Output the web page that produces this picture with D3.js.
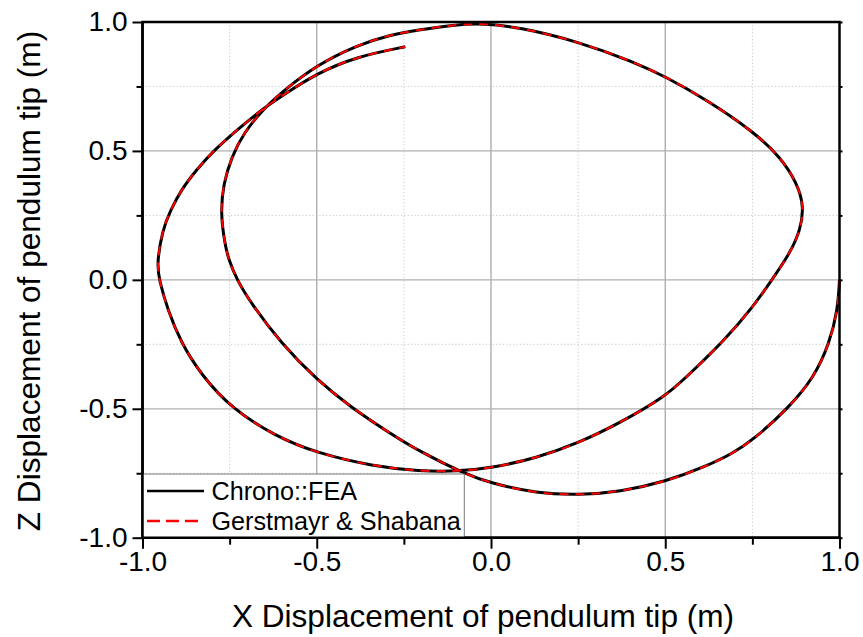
<!DOCTYPE html>
<html>
<head>
<meta charset="utf-8">
<script src="https://cdn.jsdelivr.net/npm/d3@7"></script>
<style>
  html, body { margin: 0; padding: 0; background: #fff; }
  svg { display: block; font-family: "Liberation Sans", Arial, sans-serif; }
</style>
</head>
<body>
<svg id="chart" width="863" height="637"></svg>
<script>
// ---- data ----
const chronoX = [1.0, 0.995, 0.971, 0.927, 0.853, 0.753, 0.695, 0.620, 0.501, 0.370, 0.251, 0.131, 0.0, -0.079, -0.204, -0.29, -0.404, -0.5, -0.603, -0.689, -0.729, -0.753, -0.764, -0.776, -0.768, -0.744, -0.711, -0.649, -0.596, -0.5, -0.385, -0.29, -0.204, -0.108, -0.022, 0.083, 0.251, 0.408, 0.501, 0.619, 0.753, 0.83, 0.879, 0.898, 0.888, 0.858, 0.806, 0.753, 0.667, 0.562, 0.501, 0.370, 0.251, 0.131, 0.0, -0.099, -0.204, -0.338, -0.5, -0.620, -0.742, -0.832, -0.889, -0.928, -0.952, -0.959, -0.943, -0.919, -0.889, -0.846, -0.794, -0.718, -0.649, -0.596, -0.5, -0.385, -0.246];
const chronoZ = [0.0, -0.116, -0.247, -0.379, -0.498, -0.62, -0.672, -0.722, -0.783, -0.822, -0.835, -0.828, -0.789, -0.75, -0.666, -0.595, -0.492, -0.388, -0.245, -0.09, 0.0, 0.078, 0.142, 0.258, 0.374, 0.477, 0.568, 0.669, 0.733, 0.833, 0.91, 0.95, 0.970, 0.989, 0.995, 0.979, 0.924, 0.846, 0.788, 0.698, 0.575, 0.477, 0.374, 0.284, 0.194, 0.103, 0.0, -0.103, -0.239, -0.375, -0.452, -0.555, -0.633, -0.691, -0.730, -0.743, -0.742, -0.723, -0.672, -0.605, -0.502, -0.368, -0.245, -0.116, 0.0, 0.06, 0.194, 0.271, 0.349, 0.426, 0.504, 0.594, 0.669, 0.717, 0.801, 0.866, 0.904];
const gerstX = [1.0, 0.995, 0.971, 0.927, 0.853, 0.753, 0.695, 0.620, 0.501, 0.370, 0.251, 0.131, 0.0, -0.079, -0.204, -0.29, -0.404, -0.5, -0.603, -0.689, -0.729, -0.753, -0.764, -0.776, -0.768, -0.744, -0.711, -0.649, -0.596, -0.5, -0.385, -0.29, -0.204, -0.108, -0.022, 0.083, 0.251, 0.408, 0.501, 0.619, 0.753, 0.83, 0.879, 0.898, 0.888, 0.858, 0.806, 0.753, 0.667, 0.562, 0.501, 0.370, 0.251, 0.131, 0.0, -0.099, -0.204, -0.338, -0.5, -0.620, -0.742, -0.832, -0.889, -0.928, -0.952, -0.959, -0.943, -0.919, -0.889, -0.846, -0.794, -0.718, -0.649, -0.596, -0.5, -0.385, -0.246];
const gerstZ = [0.0, -0.116, -0.247, -0.379, -0.498, -0.62, -0.672, -0.722, -0.783, -0.822, -0.835, -0.828, -0.789, -0.75, -0.666, -0.595, -0.492, -0.388, -0.245, -0.09, 0.0, 0.078, 0.142, 0.258, 0.374, 0.477, 0.568, 0.669, 0.733, 0.833, 0.91, 0.95, 0.970, 0.989, 0.995, 0.979, 0.924, 0.846, 0.788, 0.698, 0.575, 0.477, 0.374, 0.284, 0.194, 0.103, 0.0, -0.103, -0.239, -0.375, -0.452, -0.555, -0.633, -0.691, -0.730, -0.743, -0.742, -0.723, -0.672, -0.605, -0.502, -0.368, -0.245, -0.116, 0.0, 0.06, 0.194, 0.271, 0.349, 0.426, 0.504, 0.594, 0.669, 0.717, 0.801, 0.866, 0.904];
const majorTicks = [-1.0, -0.5, 0.0, 0.5, 1.0];
const minorTicks = [-0.75, -0.25, 0.25, 0.75];
const seriesNames = ["Chrono::FEA", "Gerstmayr & Shabana"];
const xTitle = "X Displacement of pendulum tip (m)";
const zTitle = "Z Displacement of pendulum tip (m)";

// ---- layout ----
const L = 142.5, R = 839.5, T = 22, B = 537.7;
const svg = d3.select("#chart");
const x = d3.scaleLinear().domain([-1, 1]).range([L, R]);
const y = d3.scaleLinear().domain([-1, 1]).range([B, T]);
const fmt = d => d.toFixed(1);

// grid
const grid = svg.append("g");
grid.selectAll("line.mx").data(minorTicks).join("line")
  .attr("x1", d => x(d)).attr("x2", d => x(d)).attr("y1", T).attr("y2", B)
  .attr("stroke", "#c8c8c8").attr("stroke-width", 1).attr("stroke-dasharray", "1.2,2.2");
grid.selectAll("line.my").data(minorTicks).join("line")
  .attr("y1", d => y(d)).attr("y2", d => y(d)).attr("x1", L).attr("x2", R)
  .attr("stroke", "#c8c8c8").attr("stroke-width", 1).attr("stroke-dasharray", "1.2,2.2");
grid.selectAll("line.Mx").data(majorTicks.slice(1, -1)).join("line")
  .attr("x1", d => x(d)).attr("x2", d => x(d)).attr("y1", T).attr("y2", B)
  .attr("stroke", "#a8a8a8").attr("stroke-width", 1.3);
grid.selectAll("line.My").data(majorTicks.slice(1, -1)).join("line")
  .attr("y1", d => y(d)).attr("y2", d => y(d)).attr("x1", L).attr("x2", R)
  .attr("stroke", "#b0b0b0").attr("stroke-width", 1.3);

// curves
const line = d3.line().x(d => x(d[0])).y(d => y(d[1])).curve(d3.curveBasis);
const chrono = chronoX.map((v, i) => [v, chronoZ[i]]);
const gerst = gerstX.map((v, i) => [v, gerstZ[i]]);
svg.append("path").attr("d", line(chrono)).attr("fill", "none")
  .attr("stroke", "#000").attr("stroke-width", 3);
svg.append("path").attr("d", line(gerst)).attr("fill", "none")
  .attr("stroke", "#ff0000").attr("stroke-width", 2).attr("stroke-dasharray", "9,7");

// axes
function styleAxis(g) {
  g.select(".domain").remove();
  g.selectAll(".tick line").attr("stroke", "#000").attr("stroke-width", 2);
  g.selectAll(".tick text").attr("fill", "#000").attr("font-size", 28)
    .attr("font-family", "'Liberation Sans', Arial, sans-serif");
}
svg.append("g").attr("transform", `translate(0,${B})`)
  .call(d3.axisBottom(x).tickValues(majorTicks).tickSize(11).tickPadding(2).tickFormat(fmt)).call(styleAxis);
svg.append("g").attr("transform", `translate(0,${B})`)
  .call(d3.axisBottom(x).tickValues(minorTicks).tickSize(7).tickFormat("")).call(styleAxis);
svg.append("g").attr("transform", `translate(${L},0)`)
  .call(d3.axisLeft(y).tickValues(majorTicks).tickSize(10).tickPadding(5).tickFormat(fmt)).call(styleAxis);
svg.append("g").attr("transform", `translate(${L},0)`)
  .call(d3.axisLeft(y).tickValues(minorTicks).tickSize(6).tickFormat("")).call(styleAxis);
svg.append("g").attr("transform", `translate(${R},0)`)
  .call(d3.axisRight(y).tickValues(majorTicks.concat(minorTicks)).tickSize(3).tickFormat("")).call(styleAxis);

// frame
svg.append("rect").attr("x", L).attr("y", T).attr("width", R - L).attr("height", B - T)
  .attr("fill", "none").attr("stroke", "#000").attr("stroke-width", 2.5);

// legend
const lg = svg.append("g");
lg.append("rect").attr("x", L).attr("y", 474).attr("width", 464.3 - L).attr("height", B - 474)
  .attr("fill", "#fff").attr("stroke", "#7a7a7a").attr("stroke-width", 1);
lg.append("line").attr("x1", 147).attr("x2", 204).attr("y1", 491).attr("y2", 491)
  .attr("stroke", "#000").attr("stroke-width", 2.5);
lg.append("line").attr("x1", 147).attr("x2", 204).attr("y1", 521).attr("y2", 521)
  .attr("stroke", "#ff0000").attr("stroke-width", 2.5).attr("stroke-dasharray", "13,6");
lg.selectAll("text").data(seriesNames).join("text")
  .attr("x", 211.5).attr("y", (d, i) => 499.5 + i * 30)
  .attr("font-size", 25.2).attr("fill", "#000").text(d => d);
// redraw frame bottom/left over legend
svg.append("line").attr("x1", L).attr("x2", L).attr("y1", T).attr("y2", B + 1.2).attr("stroke", "#000").attr("stroke-width", 2.5);
svg.append("line").attr("x1", L - 1.2).attr("x2", R + 1.2).attr("y1", B).attr("y2", B).attr("stroke", "#000").attr("stroke-width", 2.5);

// titles
svg.append("text").attr("x", 483).attr("y", 627).attr("text-anchor", "middle")
  .attr("font-size", 31.6).attr("fill", "#000").text(xTitle);
svg.append("text").attr("transform", "translate(40,281) rotate(-90)").attr("text-anchor", "middle")
  .attr("font-size", 31.6).attr("fill", "#000").text(zTitle);
</script>
</body>
</html>
